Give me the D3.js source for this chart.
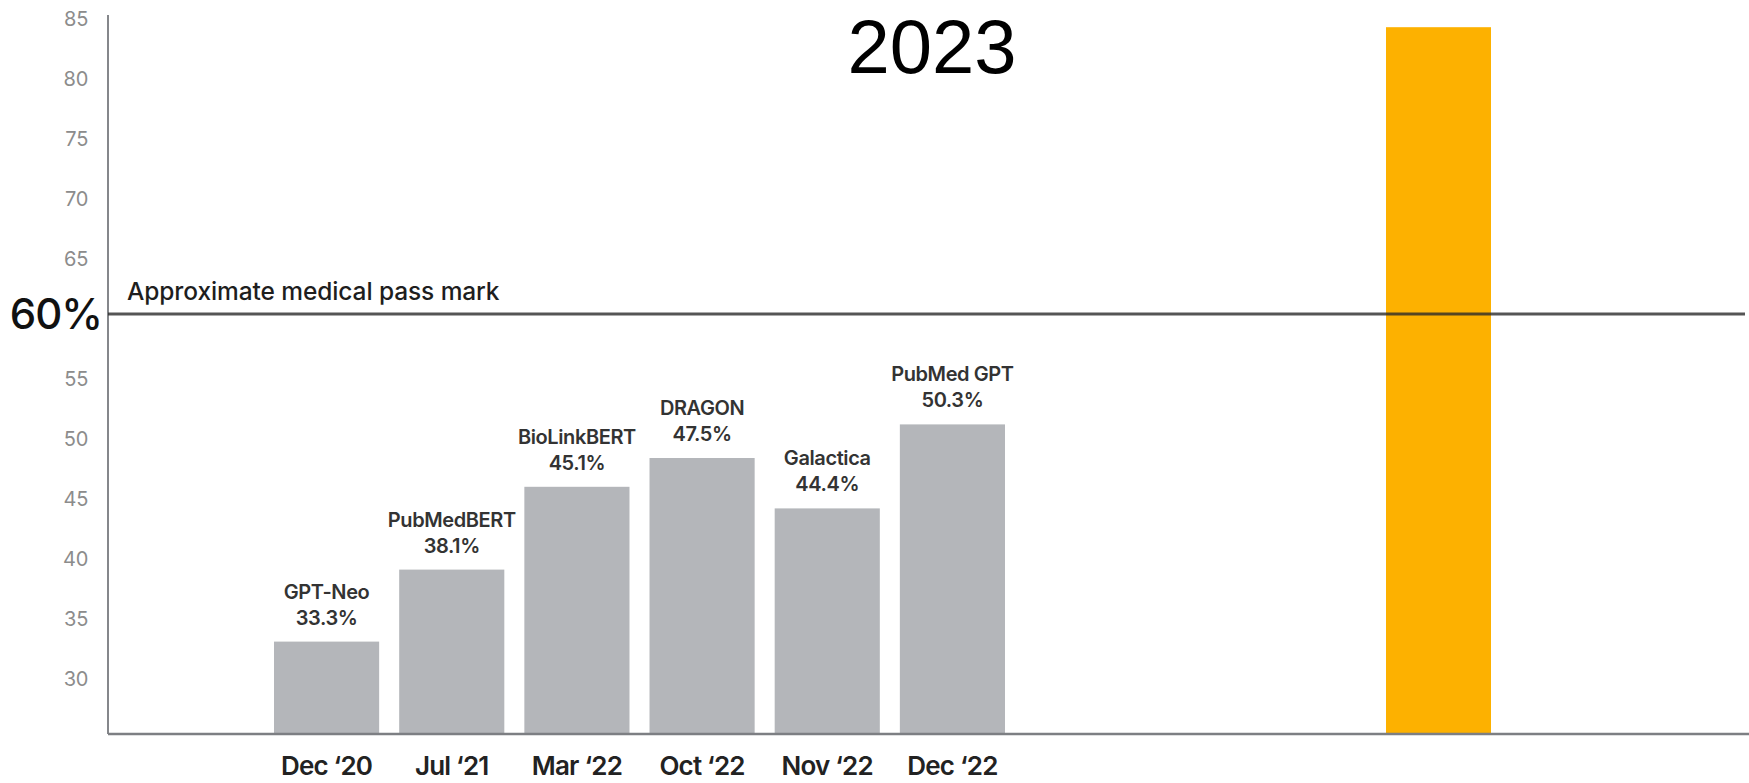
<!DOCTYPE html>
<html>
<head>
<meta charset="utf-8">
<script src="https://cdn.jsdelivr.net/npm/d3@7"></script>
<style>
  html, body { margin: 0; padding: 0; background: #ffffff; }
  svg { display: block; }
</style>
</head>
<body>
<script>
// ---- Data ----
const categories = ["Dec \u201820", "Jul \u201821", "Mar \u201822", "Oct \u201822", "Nov \u201822", "Dec \u201822"];
const models = ["GPT-Neo", "PubMedBERT", "BioLinkBERT", "DRAGON", "Galactica", "PubMed GPT"];
const reportedScores = [33.3, 38.1, 45.1, 47.5, 44.4, 50.3];     // label text
const barHeights = [32.7, 38.7, 45.6, 48.0, 43.8, 50.8];          // bar tops as drawn against the axis
const highlightCategory = ["2023"];
const highlightHeight = [83.9];
const yTicks = [30, 35, 40, 45, 50, 55, 65, 70, 75, 80, 85];
const passMark = 60;
const passMarkTickLabel = "60%";
const passMarkText = "Approximate medical pass mark";
const titleText = "2023";

// ---- Layout ----
const W = 1749, H = 783;
const axisX = 108, baseY = 734, topY = 14;

const svg = d3.select("body").append("svg")
  .attr("width", W).attr("height", H);

const y = d3.scaleLinear().domain([25, 85]).range([baseY, topY]);

const x = d3.scaleBand().domain(categories)
  .range([264, 1015]).paddingInner(0.16).paddingOuter(0.08);

const x2 = d3.scaleBand().domain(highlightCategory)
  .range([1386, 1491]).padding(0);

const sans = "Inter, Lato, 'Open Sans', 'DejaVu Sans', sans-serif";

// Y tick labels (no tick marks, no domain)
const yAxis = d3.axisLeft(y).tickValues(yTicks).tickSize(0).tickPadding(20);
const gy = svg.append("g").attr("transform", `translate(${axisX},0)`).call(yAxis);
gy.select(".domain").remove();
gy.selectAll("text")
  .attr("font-family", sans)
  .attr("font-size", 20)
  .attr("fill", "#8c8c8c")
  .attr("letter-spacing", "-0.3")
  .attr("dy", "0.55em");

// Gray bars
svg.append("g").selectAll("rect").data(categories).join("rect")
  .attr("x", d => x(d))
  .attr("width", x.bandwidth())
  .attr("y", (d, i) => y(barHeights[i]))
  .attr("height", (d, i) => baseY - y(barHeights[i]))
  .attr("fill", "#b4b6ba");

// Orange bar
svg.append("g").selectAll("rect").data(highlightCategory).join("rect")
  .attr("x", d => x2(d))
  .attr("width", x2.bandwidth())
  .attr("y", (d, i) => y(highlightHeight[i]))
  .attr("height", (d, i) => baseY - y(highlightHeight[i]))
  .attr("fill", "#fdb100");

// Bar labels
const lab = svg.append("g").attr("font-family", sans).attr("font-weight", 600)
  .attr("font-size", 20).attr("fill", "#333333").attr("text-anchor", "middle")
  .attr("letter-spacing", "-0.4");
lab.selectAll("text.name").data(models).join("text").attr("class", "name")
  .attr("x", (d, i) => x(categories[i]) + x.bandwidth() / 2)
  .attr("y", (d, i) => y(barHeights[i]) - 43)
  .text(d => d);
lab.selectAll("text.val").data(reportedScores).join("text").attr("class", "val")
  .attr("x", (d, i) => x(categories[i]) + x.bandwidth() / 2)
  .attr("y", (d, i) => y(barHeights[i]) - 17)
  .text(d => d.toFixed(1) + "%");

// X axis (category labels)
const xAxis = d3.axisBottom(x).tickSize(0).tickPadding(0);
const gx = svg.append("g").attr("transform", `translate(0,${baseY})`).call(xAxis);
gx.select(".domain").remove();
gx.selectAll("text")
  .attr("font-family", sans)
  .attr("font-size", 26)
  .attr("font-weight", 600)
  .attr("fill", "#222222")
  .attr("letter-spacing", "-0.8")
  .attr("dy", null)
  .attr("y", 41);

// Axis lines
svg.append("line").attr("x1", axisX).attr("x2", axisX)
  .attr("y1", y(85) + 1).attr("y2", baseY)
  .attr("stroke", "#85878b").attr("stroke-width", 2);
svg.append("line").attr("x1", axisX).attr("x2", W)
  .attr("y1", baseY).attr("y2", baseY)
  .attr("stroke", "#7d7f83").attr("stroke-width", 2.5);

// Pass mark line
svg.append("line").attr("x1", axisX).attr("x2", 1745)
  .attr("y1", y(passMark)).attr("y2", y(passMark))
  .attr("stroke", "#2a2a2a").attr("stroke-opacity", 0.8).attr("stroke-width", 3);

svg.append("text")
  .attr("x", axisX - 6).attr("y", y(passMark)).attr("dy", "0.36em")
  .attr("text-anchor", "end")
  .attr("font-family", sans).attr("font-size", 42).attr("font-weight", 500)
  .attr("letter-spacing", "-1")
  .attr("fill", "#111111")
  .text(passMarkTickLabel);

svg.append("text")
  .attr("x", axisX + 19).attr("y", y(passMark) - 14)
  .attr("font-family", sans).attr("font-size", 24.5).attr("font-weight", 500)
  .attr("letter-spacing", "-0.1")
  .attr("fill", "#1e1e1e")
  .text(passMarkText);

// Title
svg.append("text")
  .attr("x", 932).attr("y", 73)
  .attr("text-anchor", "middle")
  .attr("font-family", "'Liberation Sans', Arial, sans-serif")
  .attr("font-size", 76)
  .attr("fill", "#000000")
  .text(titleText);
</script>
</body>
</html>
